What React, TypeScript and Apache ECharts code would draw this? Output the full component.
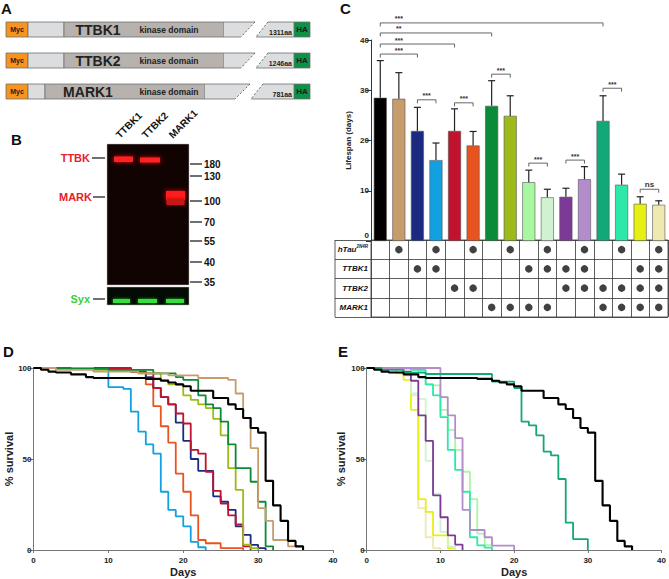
import React, { useEffect, useRef } from 'react';
import * as echarts from 'echarts';

const FONT = '"Liberation Sans", Arial, Helvetica, sans-serif';

// ---------- Panel C data ----------
const genotypes = [
  'Control', 'hTau', 'TTBK1', 'hTau+TTBK1', 'TTBK2', 'hTau+TTBK2', 'MARK1', 'hTau+MARK1',
  'TTBK1+MARK1', 'hTau+TTBK1+MARK1', 'TTBK1+TTBK2', 'hTau+TTBK1+TTBK2', 'TTBK2+MARK1',
  'hTau+TTBK2+MARK1', 'TTBK1+TTBK2+MARK1', 'hTau+TTBK1+TTBK2+MARK1',
];
const barColors = [
  '#000000', '#C69C6D', '#1B2A80', '#12A0E0', '#C1132D', '#E9531F', '#0B8A37', '#9CBA1A',
  '#A9F7A1', '#D0F2D0', '#7C3A96', '#B38CCB', '#12A877', '#2CE9A9', '#E8F012', '#EFE9B1',
];
const lifespanMean = [28.5, 28.3, 21.9, 16.1, 21.9, 19.0, 26.9, 24.9, 11.7, 8.7, 8.8, 12.3, 23.9, 11.2, 7.4, 7.2];
const lifespanSD = [7.4, 5.2, 4.7, 3.4, 4.4, 2.8, 5.0, 4.0, 2.4, 1.6, 1.7, 2.5, 5.0, 2.1, 1.4, 0.8];

const tableRows = ['hTau2N4R', 'TTBK1', 'TTBK2', 'MARK1'];
const hTauRow = [0, 1, 0, 1, 0, 1, 0, 1, 0, 1, 0, 1, 0, 1, 0, 1];
const ttbk1Row = [0, 0, 1, 1, 0, 0, 0, 0, 1, 1, 1, 1, 0, 0, 1, 1];
const ttbk2Row = [0, 0, 0, 0, 1, 1, 0, 0, 0, 0, 1, 1, 1, 1, 1, 1];
const mark1Row = [0, 0, 0, 0, 0, 0, 1, 1, 1, 1, 0, 0, 1, 1, 1, 1];
const genotypeMatrix = [hTauRow, ttbk1Row, ttbk2Row, mark1Row];

const bracketFrom = [0, 0, 0, 0, 2, 4, 6, 12, 8, 10, 14];
const bracketTo = [12, 6, 4, 2, 3, 5, 7, 13, 9, 11, 15];
const bracketLevel = [43.4, 41.4, 39.2, 37.2, 28.1, 27.5, 33.2, 30.4, 15.5, 16.1, 10.3];
const bracketLabel = ['***', '**', '***', '***', '***', '***', '***', '***', '***', '***', 'ns'];

// ---------- Panels D & E survival data [day, % survival] ----------
const controlSurv = [[0,100],[1,99],[2,98],[3,97.5],[5,96.5],[7,95],[8,94.5],[15,94],[17,93],[18,92],[19,91],[20,90],[21,87.5],[24,83.5],[26,80],[27,77.5],[28,72.5],[29,67],[30,64.5],[31,38],[32,24.5],[33,16],[34,5],[35,2],[36,0]];
const hTauSurv = [[0,100],[3,99],[8,98],[14,97],[18,96],[22,94.5],[26,93.5],[27,86],[28,72.5],[29,56],[30,23],[31,16],[32,5.5],[34,2],[36,0]];
const ttbk1Surv = [[0,100],[13,98],[15,95],[16,89],[17,84],[18,80],[19,70],[20,60],[21,50],[22,43.5],[24,29.5],[25,26.5],[26,22],[27,13],[28,8.3],[29,2.8],[30,1],[31,0]];
const hTauTtbk1Surv = [[0,100],[10,89.5],[12,88.5],[13,76],[14,65],[15,58],[16,53],[17,32],[18,22],[19,18.5],[20,13],[21,4.5],[22,1.5],[23,0]];
const ttbk2Surv = [[0,100],[13,98],[15,97],[16,89],[17,84],[18,80],[19,75],[20,69.5],[21,55],[22,53],[23,43],[24,32.5],[25,25.5],[26,19],[27,14],[28,2],[29,0]];
const hTauTtbk2Surv = [[0,100],[13,99],[14,98],[15,91],[16,79],[17,68],[18,59],[19,42],[20,32],[21,19],[22,5.5],[23,3.7],[25,1],[28,0]];
const mark1Surv = [[0,100],[5,99.5],[10,99],[16,97],[19,95],[20,93.5],[22,85],[23,80],[24,78],[25,70.5],[26,58],[27,45],[29,37.5],[30,26.5],[31,2],[32,0]];
const hTauMark1Surv = [[0,100],[8,99],[14,97],[17,93.5],[18,91],[20,85],[21,82.5],[22,80],[23,78],[24,72],[25,63],[26,45],[27,33],[28,3],[29,1],[30,0]];

const ttbk1Mark1Surv = [[0,100],[3,99.5],[7,98],[8,91],[9,90.5],[10,77],[11,66],[12,55],[13,43],[14,28],[15,9],[16,2.7],[17,0]];
const hTauTtbk1Mark1Surv = [[0,100],[5,96],[6,86],[7,83],[8,49],[9,31],[10,10],[11,2],[12,0]];
const ttbk1Ttbk2Surv = [[0,100],[5,98],[6,93],[7,74],[8,60],[9,30],[10,18],[11,8],[12,3],[13,0]];
const hTauTtbk1Ttbk2Surv = [[0,100],[9,100],[10,84],[11,74],[12,61.5],[13,22],[14,11],[16,7],[17,2.4],[20,0]];
const ttbk2Mark1Surv = [[0,100],[2,99],[5,97.5],[8,96.7],[17,92.5],[20,89],[21,70.5],[22,68.5],[23,63],[24,54],[25,52],[26,39],[27,15],[28,6],[30,0]];
const hTauTtbk2Mark1Surv = [[0,100],[6,99],[8,91],[9,85],[10,73],[11,55],[12,44],[13,32],[14,7],[15,2.5],[16,1.3],[17,0]];
const allThreeSurv = [[0,100],[4,97],[5,93.5],[6,77],[7,28],[8,21],[9,8],[11,1],[12,0]];
const hTauAllThreeSurv = [[0,100],[5,96],[6,85],[7,23],[8,7],[9,1],[10,0]];

// ---------- Panel B markers ----------
const markerLabels = ['180', '130', '100', '70', '55', '40', '35'];
const laneLabels = ['TTBK1', 'TTBK2', 'MARK1'];

function panelLetter(t: string, x: number, y: number) {
  return { type: 'text', x, y, style: { text: t, fontSize: 15, fontWeight: 'bold', fontFamily: FONT, fill: '#111', align: 'left', verticalAlign: 'top' } };
}

function buildConstruct(name: string, len: string, y: number, ks: number, ke: number, c1t: number, c1b: number, c2b: number, c2t: number, nameX: number) {
  const h = 15;
  const stroke = '#6d6e71';
  const els: any[] = [];
  els.push({ type: 'rect', shape: { x: 6, y, width: 22, height: h }, style: { fill: '#F7941D', stroke, lineWidth: 0.8 } });
  els.push({ type: 'rect', shape: { x: 28, y, width: ks - 28, height: h }, style: { fill: '#DCDDDE', stroke, lineWidth: 0.8 } });
  els.push({ type: 'rect', shape: { x: ks, y, width: ke - ks, height: h }, style: { fill: '#B7B2AE', stroke, lineWidth: 0.8 } });
  els.push({ type: 'polygon', shape: { points: [[ke, y], [c1t, y], [c1b, y + h], [ke, y + h]] }, style: { fill: '#DCDDDE' } });
  els.push({ type: 'polyline', shape: { points: [[ke, y], [c1t, y]] }, style: { stroke, lineWidth: 0.8, fill: 'none' } });
  els.push({ type: 'polyline', shape: { points: [[ke, y + h], [c1b, y + h]] }, style: { stroke, lineWidth: 0.8, fill: 'none' } });
  els.push({ type: 'line', shape: { x1: c1t, y1: y, x2: c1b, y2: y + h }, style: { stroke: '#444', lineWidth: 0.8, lineDash: [2, 2] } });
  els.push({ type: 'polygon', shape: { points: [[c2b, y + h], [c2t, y], [294, y], [294, y + h]] }, style: { fill: '#DCDDDE' } });
  els.push({ type: 'polyline', shape: { points: [[c2t, y], [294, y]] }, style: { stroke, lineWidth: 0.8, fill: 'none' } });
  els.push({ type: 'polyline', shape: { points: [[c2b, y + h], [294, y + h]] }, style: { stroke, lineWidth: 0.8, fill: 'none' } });
  els.push({ type: 'line', shape: { x1: c2t, y1: y, x2: c2b, y2: y + h }, style: { stroke: '#444', lineWidth: 0.8, lineDash: [2, 2] } });
  els.push({ type: 'rect', shape: { x: 294, y, width: 16, height: h }, style: { fill: '#0E9146', stroke, lineWidth: 0.8 } });
  els.push({ type: 'text', x: 17, y: y + h / 2, style: { text: 'Myc', fontSize: 7, fontWeight: 'bold', fontFamily: FONT, fill: '#222', align: 'center', verticalAlign: 'middle' } });
  els.push({ type: 'text', x: 302, y: y + h / 2, style: { text: 'HA', fontSize: 8, fontWeight: 'bold', fontFamily: FONT, fill: '#1a1a1a', align: 'center', verticalAlign: 'middle' } });
  els.push({ type: 'text', x: nameX, y: y + h / 2 + 0.5, style: { text: name, fontSize: 14, fontWeight: 'bold', fontFamily: FONT, fill: '#222', align: 'center', verticalAlign: 'middle' } });
  els.push({ type: 'text', x: 169, y: y + h / 2, style: { text: 'kinase domain', fontSize: 8.5, fontWeight: 'bold', fontFamily: FONT, fill: '#222', align: 'center', verticalAlign: 'middle' } });
  els.push({ type: 'text', x: 292, y: y + h - 1, style: { text: len, fontSize: 7, fontWeight: 'bold', fontFamily: FONT, fill: '#222', align: 'right', verticalAlign: 'bottom' } });
  return els;
}

function buildBlot() {
  const els: any[] = [];
  const markerY = [164, 176, 201, 222, 241, 262, 282];
  els.push({ type: 'rect', shape: { x: 107, y: 144, width: 82, height: 141 }, style: { fill: '#120303', stroke: '#bbb', lineWidth: 0.5 } });
  els.push({ type: 'rect', shape: { x: 114, y: 156.5, width: 19, height: 5.5 }, style: { fill: '#ff2020', shadowBlur: 4, shadowColor: '#ff0000' } });
  els.push({ type: 'rect', shape: { x: 140, y: 157.5, width: 20, height: 5 }, style: { fill: '#ff2020', shadowBlur: 4, shadowColor: '#ff0000' } });
  els.push({ type: 'rect', shape: { x: 166, y: 191, width: 19, height: 9 }, style: { fill: '#ff1a1a', shadowBlur: 4, shadowColor: '#ff0000' } });
  els.push({ type: 'rect', shape: { x: 166.5, y: 199, width: 18, height: 6 }, style: { fill: '#c81414', shadowBlur: 3, shadowColor: '#aa0000' } });
  els.push({ type: 'rect', shape: { x: 107, y: 287, width: 82, height: 18 }, style: { fill: '#040a04', stroke: '#bbb', lineWidth: 0.5 } });
  [[113, 17], [138, 19], [166, 18]].forEach(([x, w]) => {
    els.push({ type: 'rect', shape: { x, y: 299, width: w, height: 4 }, style: { fill: '#35e03c', shadowBlur: 3, shadowColor: '#20c020' } });
  });
  els.push({ type: 'text', x: 90, y: 158, style: { text: 'TTBK', fontSize: 11, fontWeight: 'bold', fontFamily: FONT, fill: '#E8202A', align: 'right', verticalAlign: 'middle' } });
  els.push({ type: 'line', shape: { x1: 92, y1: 158, x2: 105, y2: 158 }, style: { stroke: '#111', lineWidth: 1.2 } });
  els.push({ type: 'text', x: 92, y: 197, style: { text: 'MARK', fontSize: 11, fontWeight: 'bold', fontFamily: FONT, fill: '#E8202A', align: 'right', verticalAlign: 'middle' } });
  els.push({ type: 'line', shape: { x1: 93, y1: 197, x2: 105, y2: 197 }, style: { stroke: '#111', lineWidth: 1.2 } });
  els.push({ type: 'text', x: 90, y: 299, style: { text: 'Syx', fontSize: 11, fontWeight: 'bold', fontFamily: FONT, fill: '#3ad13a', align: 'right', verticalAlign: 'middle' } });
  els.push({ type: 'line', shape: { x1: 93, y1: 299, x2: 105, y2: 299 }, style: { stroke: '#111', lineWidth: 1.2 } });
  markerLabels.forEach((m, i) => {
    els.push({ type: 'line', shape: { x1: 190, y1: markerY[i], x2: 202, y2: markerY[i] }, style: { stroke: '#111', lineWidth: 1.2 } });
    els.push({ type: 'text', x: 204, y: markerY[i], style: { text: m, fontSize: 10, fontWeight: 'bold', fontFamily: FONT, fill: '#111', align: 'left', verticalAlign: 'middle' } });
  });
  const laneX = [121, 147, 174];
  laneLabels.forEach((l, i) => {
    els.push({ type: 'text', x: laneX[i], y: 140, rotation: Math.PI / 4, style: { text: l, fontSize: 10, fontWeight: 'bold', fontFamily: FONT, fill: '#111', align: 'left', verticalAlign: 'bottom' } });
  });
  return els;
}

function survSeries(data: number[][], color: string, xi: number, width = 1.8) {
  return {
    type: 'line', xAxisIndex: xi, yAxisIndex: xi, data, step: 'end', symbol: 'none',
    lineStyle: { color, width }, itemStyle: { color }, silent: true,
  };
}

const App: React.FC = () => {
  const ref = useRef<HTMLDivElement>(null);
  useEffect(() => {
    document.body.style.margin = '0';
    if (!ref.current) return;
    const chart = echarts.init(ref.current, undefined, { renderer: 'svg' });

    const tableDots: number[][] = [];
    genotypeMatrix.forEach((row, r) => row.forEach((v, c) => { if (v) tableDots.push([c, r]); }));

    const axisText = { fontSize: 8, fontWeight: 'bold', color: '#222', fontFamily: FONT };
    const survX = (gi: number) => ({
      type: 'value', gridIndex: gi, min: 0, max: 40, interval: 10,
      name: 'Days', nameLocation: 'middle', nameGap: 16,
      nameTextStyle: { fontSize: 11, fontWeight: 'bold', color: '#222', fontFamily: FONT },
      axisLine: { lineStyle: { color: '#777', width: 1 } },
      axisTick: { show: true, length: 3, lineStyle: { color: '#777' } },
      axisLabel: { ...axisText, margin: 6 }, splitLine: { show: false },
    });
    const survY = (gi: number, gap: number) => ({
      type: 'value', gridIndex: gi, min: 0, max: 100, interval: 50,
      name: '% survival', nameLocation: 'middle', nameGap: gap,
      nameTextStyle: { fontSize: 11, fontWeight: 'bold', color: '#222', fontFamily: FONT },
      axisLine: { show: true, lineStyle: { color: '#777', width: 1 } },
      axisTick: { show: true, length: 5, lineStyle: { color: '#777' } },
      axisLabel: { ...axisText, margin: 2 }, splitLine: { show: false },
    });

    const option: any = {
      animation: false,
      backgroundColor: '#ffffff',
      textStyle: { fontFamily: FONT },
      grid: [
        { left: 371, top: 40, width: 297, height: 201 },
        { left: 371, top: 240, width: 297, height: 77, show: true, borderColor: '#333', borderWidth: 0.8, backgroundColor: 'transparent' },
        { left: 33.5, top: 368, width: 299.5, height: 182 },
        { left: 366.7, top: 368, width: 298.3, height: 182 },
      ],
      xAxis: [
        { type: 'category', gridIndex: 0, data: genotypes, axisLine: { show: false }, axisTick: { show: false }, axisLabel: { show: false } },
        { type: 'category', gridIndex: 1, data: genotypes, axisLine: { show: false }, axisTick: { show: false }, axisLabel: { show: false },
          splitLine: { show: true, interval: 0, lineStyle: { color: '#333', width: 0.8 } } },
        survX(2),
        survX(3),
      ],
      yAxis: [
        { type: 'value', gridIndex: 0, min: 0, max: 40, interval: 10,
          name: 'Lifespan (days)', nameLocation: 'middle', nameGap: 19,
          nameTextStyle: { fontSize: 8, fontWeight: 'bold', color: '#222', fontFamily: FONT },
          axisLine: { show: true, lineStyle: { color: '#333', width: 1 } },
          axisTick: { show: true, length: 5, lineStyle: { color: '#333' } },
          axisLabel: { ...axisText, margin: 2, formatter: (v: number) => (v === 0 ? '{z|0}' : String(v)),
            rich: { z: { fontSize: 8, fontWeight: 'bold', color: '#222', fontFamily: FONT, padding: [0, 0, 11, 0] } } },
          splitLine: { show: false } },
        { type: 'category', gridIndex: 1, data: tableRows, inverse: true,
          axisLine: { show: false },
          axisTick: { show: true, length: 36, interval: 0, lineStyle: { color: '#333', width: 0.8 } },
          axisLabel: { margin: 3, formatter: (v: string) => (v.startsWith('hTau') ? '{a|hTau}{s|' + v.slice(4) + '}' : '{a|' + v + '}'),
            rich: {
              a: { fontSize: 8, fontWeight: 'bold', fontStyle: 'italic', color: '#111', fontFamily: FONT },
              s: { fontSize: 4.5, fontWeight: 'bold', fontStyle: 'italic', color: '#111', fontFamily: FONT, padding: [0, 0, 6, 0] },
            } },
          splitLine: { show: true, interval: 0, lineStyle: { color: '#333', width: 0.8 } } },
        survY(2, 16),
        survY(3, 20),
      ],
      series: [
        { type: 'bar', xAxisIndex: 0, yAxisIndex: 0, barWidth: 13,
          data: lifespanMean.map((v, i) => ({ value: v, itemStyle: { color: barColors[i], borderColor: '#555', borderWidth: 0.6 } })) },
        { type: 'custom', xAxisIndex: 0, yAxisIndex: 0, z: 5, clip: false,
          data: lifespanMean.map((m, i) => [i, m, m + lifespanSD[i]]),
          encode: { x: 0, y: [1, 2] },
          renderItem: (_p: any, api: any) => {
            const i = api.value(0);
            const base = api.coord([i, api.value(1)]);
            const top = api.coord([i, api.value(2)]);
            return { type: 'group', children: [
              { type: 'line', shape: { x1: top[0], y1: base[1], x2: top[0], y2: top[1] }, style: { stroke: '#222', lineWidth: 1.2 } },
              { type: 'line', shape: { x1: top[0] - 3.5, y1: top[1], x2: top[0] + 3.5, y2: top[1] }, style: { stroke: '#222', lineWidth: 1.2 } },
            ] };
          } },
        { type: 'custom', xAxisIndex: 0, yAxisIndex: 0, z: 5, clip: false,
          data: bracketFrom.map((f, k) => [f, bracketLevel[k]]),
          encode: { x: 0, y: 1 },
          renderItem: (params: any, api: any) => {
            const k = params.dataIndex;
            const p1 = api.coord([bracketFrom[k], bracketLevel[k]]);
            const p2 = api.coord([bracketTo[k], bracketLevel[k]]);
            const y = p1[1];
            const long = bracketTo[k] - bracketFrom[k] > 1;
            const lx = long ? api.coord([bracketFrom[k] + 1, 0])[0] : (p1[0] + p2[0]) / 2;
            return { type: 'group', children: [
              { type: 'polyline', shape: { points: [[p1[0], y + 3.5], [p1[0], y], [p2[0], y], [p2[0], y + 3.5]] }, style: { stroke: '#555', lineWidth: 0.9, fill: 'none' } },
              { type: 'text', style: { text: bracketLabel[k], x: lx, y: y - 0.5, align: 'center', verticalAlign: 'bottom', textAlign: 'center', textVerticalAlign: 'bottom',
                fontSize: bracketLabel[k] === 'ns' ? 8 : 7, fontWeight: 'bold', fontFamily: FONT, fill: '#333' } },
            ] };
          } },
        { type: 'scatter', xAxisIndex: 1, yAxisIndex: 1, data: tableDots, symbolSize: 7.5, itemStyle: { color: '#111' }, silent: true },
        survSeries(hTauTtbk1Surv, barColors[3], 2),
        survSeries(hTauTtbk2Surv, barColors[5], 2),
        survSeries(ttbk1Surv, barColors[2], 2),
        survSeries(ttbk2Surv, barColors[4], 2),
        survSeries(hTauMark1Surv, barColors[7], 2),
        survSeries(mark1Surv, barColors[6], 2),
        survSeries(hTauSurv, barColors[1], 2),
        survSeries(controlSurv, barColors[0], 2, 2.1),
        survSeries(hTauAllThreeSurv, barColors[15], 3),
        survSeries(allThreeSurv, barColors[14], 3),
        survSeries(hTauTtbk1Mark1Surv, barColors[9], 3),
        survSeries(ttbk1Ttbk2Surv, barColors[10], 3),
        survSeries(ttbk1Mark1Surv, barColors[8], 3),
        survSeries(hTauTtbk2Mark1Surv, barColors[13], 3),
        survSeries(hTauTtbk1Ttbk2Surv, barColors[11], 3),
        survSeries(ttbk2Mark1Surv, barColors[12], 3),
        survSeries(controlSurv, barColors[0], 3, 2.1),
      ],
      graphic: [
        panelLetter('A', 1, 1),
        panelLetter('B', 11, 132),
        panelLetter('C', 340, 1),
        panelLetter('D', 3, 344),
        panelLetter('E', 338, 344),
        ...buildConstruct('TTBK1', '1311aa', 22, 64, 224, 255, 241, 256, 268, 98),
        ...buildConstruct('TTBK2', '1246aa', 53, 64, 224, 255, 241, 256, 268, 98),
        ...buildConstruct('MARK1', '781aa', 84, 45, 205, 250, 235, 251, 263, 88),
        ...buildBlot(),
        { type: 'line', shape: { x1: 335, y1: 240, x2: 335, y2: 317 }, style: { stroke: '#333', lineWidth: 0.8 } },
      ],
    };
    chart.setOption(option);
    return () => chart.dispose();
  }, []);
  return <div ref={ref} style={{ width: 669, height: 579 }} />;
};

export default App;
